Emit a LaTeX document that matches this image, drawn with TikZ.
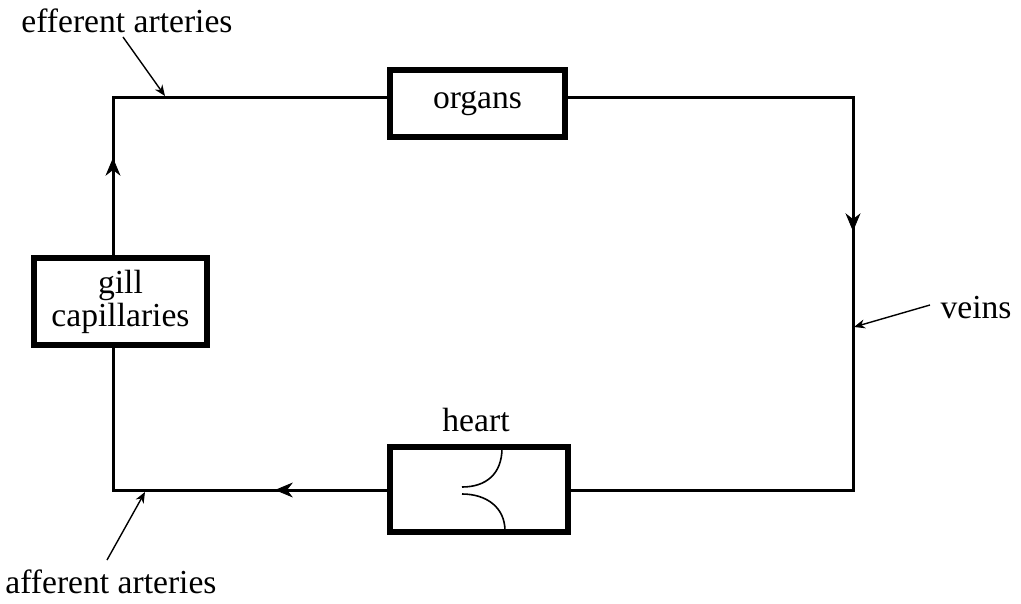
\documentclass[tikz,border=0pt]{standalone}
\usepackage{fontspec}
\setmainfont{Liberation Serif}
\usetikzlibrary{arrows.meta,decorations.markings}
\begin{document}
\begin{tikzpicture}[x=0.5pt,y=-0.5pt,
  box/.style={draw,line width=2.6pt,minimum width=#1,inner sep=0pt,align=center,font=\fontsize{16.8}{16.5}\selectfont},
  flow/.style={line width=1.5pt,line join=miter},
  lbl/.style={font=\fontsize{16.8}{17}\selectfont,inner sep=0pt},
  pointer/.style={line width=0.7pt,-{Stealth[length=5.5pt,width=4.5pt]}},
  midarrow/.style={decoration={markings,mark=at position #1 with {\arrow{Stealth[length=9pt,width=7.5pt]}}},decorate}]
\useasboundingbox (0,0) rectangle (1021,604);
\node[box=87.5pt,minimum height=33.5pt] (organs) at (477.5,103.5) {organs};
\node[box=89pt,minimum height=42.5pt] (heart) at (479,489.5) {};
\node[box=86.5pt,minimum height=43.5pt] (gill) at (120.5,301.5) {gill\\capillaries};
\coordinate (tl) at (113,98);
\coordinate (tr) at (853,98);
\coordinate (br) at (853,490);
\coordinate (bl) at (113,490);
\draw[flow] (organs.east |- tr) -- (tr) -- (br) -- (heart.east |- br);
\draw[flow] (heart.west |- bl) -- (bl) -- (gill.south -| bl);
\draw[flow] (gill.north -| tl) -- (tl) -- (organs.west |- tl);
\path[midarrow=0.34] (tr) -- (br);
\path[midarrow=0.41] (heart.west |- bl) -- (bl);
\path[midarrow=0.62] (gill.north -| tl) -- (tl);
% heart valves
\draw[line width=0.8pt] (502,448) .. controls (502,474) and (486,487) .. (462,487);
\draw[line width=0.8pt] (462,494) .. controls (486,494) and (505,507) .. (505,531);
\node[lbl] (heartlbl) at (476,420) {heart};
\node[lbl] (eff) at (127,21) {efferent arteries};
\node[lbl] (aff) at (111,582) {afferent arteries};
\node[lbl] (veins) at (976,308) {veins};
\coordinate (effp) at (165,96);
\coordinate (affp) at (145,492);
\coordinate (veinp) at (854,327);
\draw[pointer] (123,37) -- (effp);
\draw[pointer] (107,560) -- (affp);
\draw[pointer] (930,305) -- (veinp);
\end{tikzpicture}
\end{document}
